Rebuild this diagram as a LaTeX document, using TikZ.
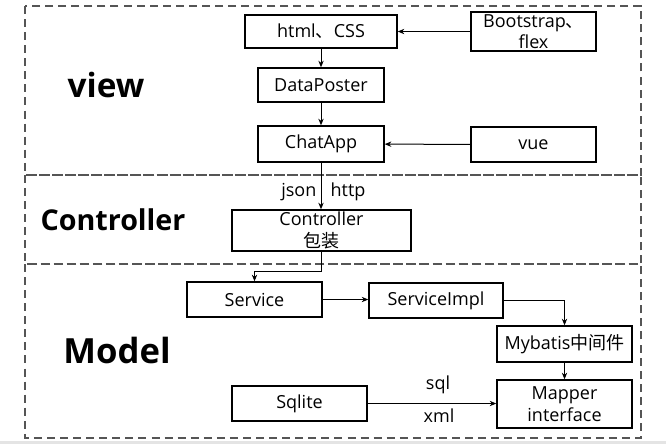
\documentclass[tikz,border=0pt]{standalone}
\usepackage{fontspec}
\setmainfont{Open Sans}
\newfontfamily\cjk{Noto Sans CJK SC}
\usetikzlibrary{arrows.meta}
\definecolor{framegray}{RGB}{85,85,85}
\definecolor{stripgray}{RGB}{228,228,228}

\tikzset{
	box/.style 2 args={draw=black, line width=1pt, inner sep=0pt, align=center,
		minimum width=#1*0.75pt, minimum height=#2*0.75pt,
		font=\fontsize{13.5}{16}\selectfont},
	layer/.style={draw=framegray, line width=1.1pt, dash pattern=on 6pt off 3.8pt},
	layername/.style={font=\fontsize{#1}{#1}\bfseries\selectfont},
	flow/.style={draw=black, line width=0.75pt, -{Stealth[length=5pt,width=4pt]}},
	tag/.style={font=\fontsize{13.5}{16}\selectfont, inner sep=1pt}
}

\begin{document}
\begin{tikzpicture}[x=0.75pt, y=-0.75pt]
	\useasboundingbox (0,0) rectangle (666,444);
	\fill[stripgray] (0,441) rectangle (666,444);

	% LAYERS
	\draw[layer] (25,6) rectangle (641,175);
	\draw[layer] (25,175) rectangle (641,264);
	\draw[layer] (25,264) rectangle (641,438);
	\node[layername=25] (viewname) at (106,85) {view};
	\node[layername=21.5] (ctrlname) at (113,220) {Controller};
	\node[layername=26] (modelname) at (117,350) {Model};

	% VIEW
	\node[box={152}{33}] (html) at (321,31.5) {html{\cjk 、}CSS};
	\node[box={125}{39}] (boot) at (533.5,31.5) {Bootstrap{\cjk 、}\\flex};
	\node[box={126}{34}] (poster) at (321,85) {DataPoster};
	\node[box={126}{36}] (chat) at (321,144) {ChatApp};
	\node[box={125}{35}] (vue) at (533.5,144.5) {vue};
	\draw[flow] (boot) -- (html);
	\draw[flow] (html) -- (poster);
	\draw[flow] (poster) -- (chat);
	\draw[flow] (vue) -- (chat);

	% CONTROLLER
	\node[box={179}{41}] (ctrl) at (321.5,230.5) {Controller\\{\cjk 包装}};
	\draw[flow] (chat.south) -- (chat.south |- ctrl.north);
	\node[tag, anchor=east] (json) at (318,192) {json};
	\node[tag, anchor=west] (http) at (329,192) {http};

	% MODEL
	\node[box={135}{35}] (service) at (254.5,299.5) {Service};
	\node[box={134}{35}] (impl) at (436,300.5) {ServiceImpl};
	\node[box={135}{36}] (mybatis) at (564.5,344) {Mybatis{\cjk 中间件}};
	\node[box={135}{48}] (mapper) at (564.5,404) {Mapper\\interface};
	\node[box={135}{35}] (sqlite) at (299.5,403.5) {Sqlite};
	\coordinate (bend) at (321,271);
	\draw[flow] (ctrl.south -| bend) -- (bend) -| (service.north);
	\draw[flow] (service) -- (service -| impl.west);
	\draw[flow] (impl.east) -| (mybatis.north);
	\draw[flow] (mybatis) -- (mapper);
	\draw[flow] (sqlite) -- (sqlite -| mapper.west);
	\node[tag] (sql) at (438,385) {sql};
	\node[tag] (xml) at (439,416) {xml};
\end{tikzpicture}
\end{document}
